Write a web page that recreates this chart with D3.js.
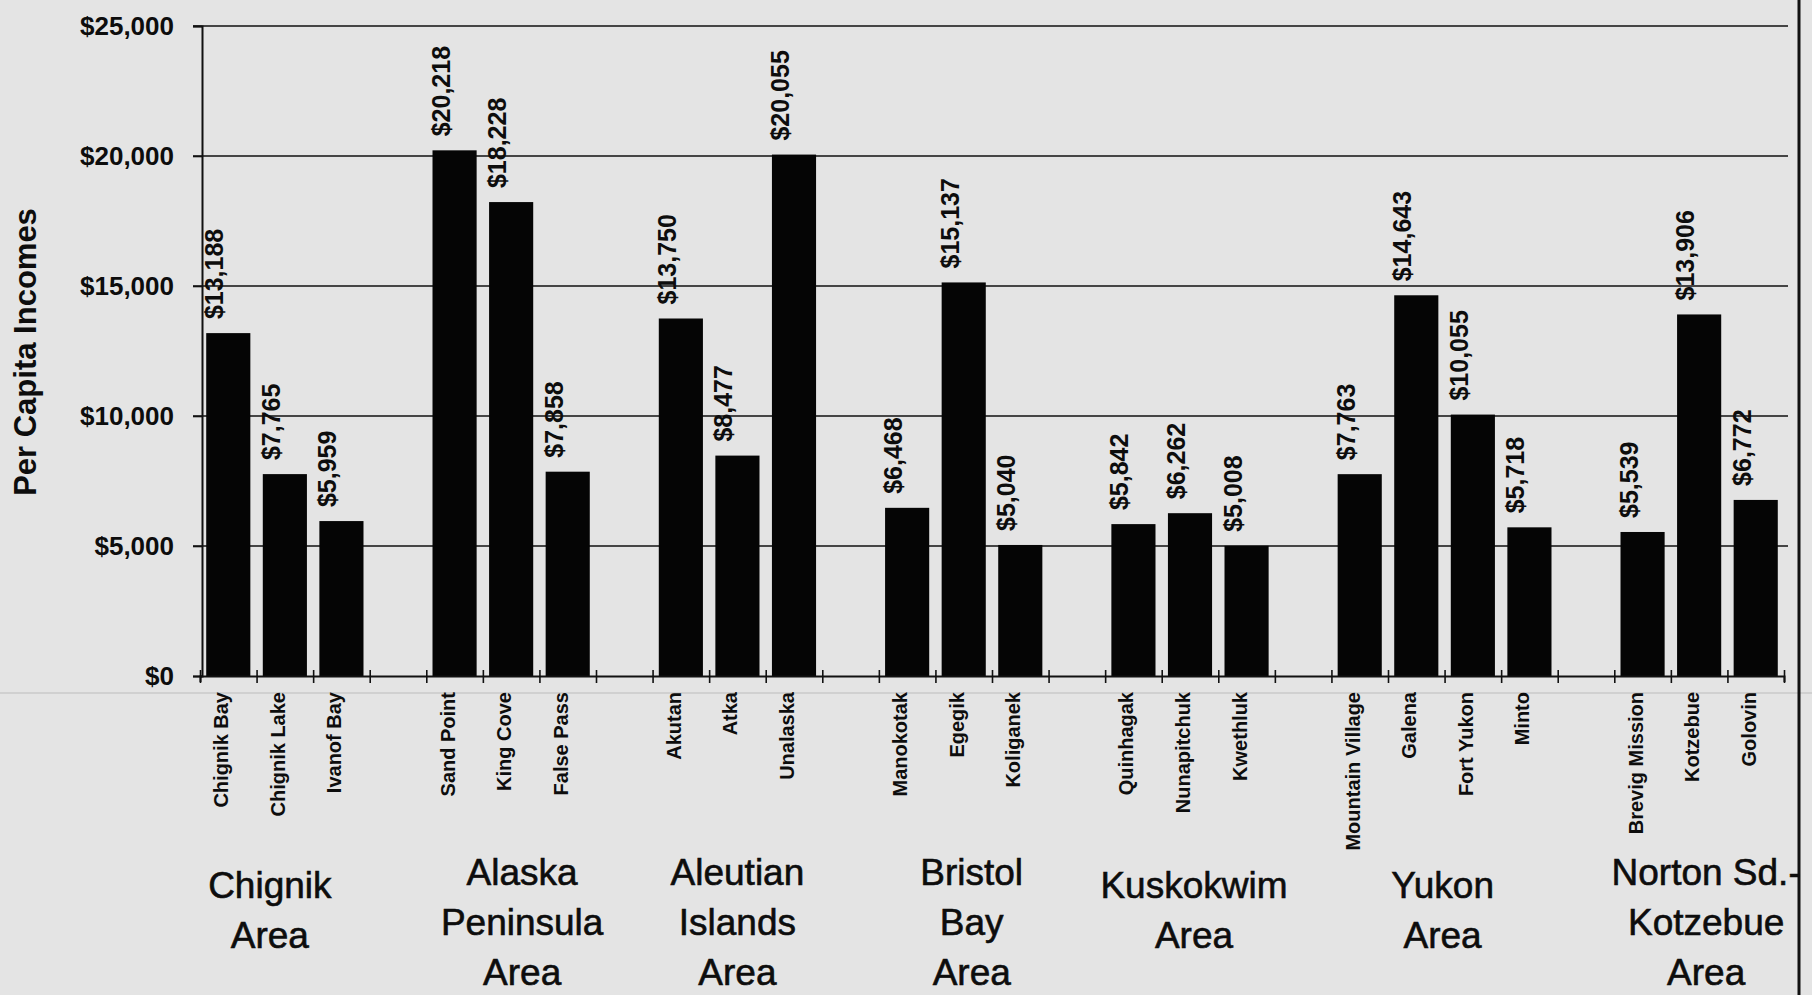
<!DOCTYPE html>
<html>
<head>
<meta charset="utf-8">
<script src="https://cdn.jsdelivr.net/npm/d3@7"></script>
<style>
  html, body { margin: 0; padding: 0; background: #e4e4e4; overflow: hidden; }
  svg { display: block; }
  text { font-family: "Liberation Sans", Arial, sans-serif; fill: #0d0d0d; }
</style>
</head>
<body>
<svg id="chart" width="1812" height="995"></svg>
<script>
// ---------------- data ----------------
const groupLabels = [
  ["Chignik", "Area"],
  ["Alaska", "Peninsula", "Area"],
  ["Aleutian", "Islands", "Area"],
  ["Bristol", "Bay", "Area"],
  ["Kuskokwim", "Area"],
  ["Yukon", "Area"],
  ["Norton Sd.-", "Kotzebue", "Area"]
];
const groupSizes = [3, 3, 3, 3, 3, 4, 3];
const communities = [
  "Chignik Bay", "Chignik Lake", "Ivanof Bay",
  "Sand Point", "King Cove", "False Pass",
  "Akutan", "Atka", "Unalaska",
  "Manokotak", "Egegik", "Koliganek",
  "Quinhagak", "Nunapitchuk", "Kwethluk",
  "Mountain Village", "Galena", "Fort Yukon", "Minto",
  "Brevig Mission", "Kotzebue", "Golovin"
];
const incomes = [
  13188, 7765, 5959,
  20218, 18228, 7858,
  13750, 8477, 20055,
  6468, 15137, 5040,
  5842, 6262, 5008,
  7763, 14643, 10055, 5718,
  5539, 13906, 6772
];
const yTicks = [0, 5000, 10000, 15000, 20000, 25000];
const yTitle = "Per Capita Incomes";

// ---------------- layout ----------------
const svg = d3.select("#chart");
const W = 1812, H = 995;
const plotL = 200, plotR = 1784, plotT = 26, plotB = 676;

// slots: communities with an empty slot between groups
const slots = [];
let k = 0;
groupSizes.forEach((n, g) => {
  for (let i = 0; i < n; i++) { slots.push(communities[k]); k++; }
  if (g < groupSizes.length - 1) slots.push("gap" + g);
});

const x = d3.scaleBand().domain(slots).range([plotL, plotR]).paddingInner(0.22).paddingOuter(0.11);
const slotScale = d3.scaleLinear().domain([0, slots.length]).range([plotL, plotR]);
const y = d3.scaleLinear().domain([0, 25000]).range([plotB, plotT]);

// background
svg.append("rect").attr("width", W).attr("height", H).attr("fill", "#e4e4e4");
// faint fold line from the scan
svg.append("line").attr("x1", 0).attr("x2", W).attr("y1", 693).attr("y2", 693)
  .attr("stroke", "#d0d0d0").attr("stroke-width", 2);
// right page border
svg.append("line").attr("x1", 1799).attr("x2", 1799).attr("y1", 0).attr("y2", H)
  .attr("stroke", "#111").attr("stroke-width", 3);

// gridlines
svg.append("g").selectAll("line").data(yTicks.filter(d => d > 0)).join("line")
  .attr("x1", plotL - 7).attr("x2", plotR + 4)
  .attr("y1", d => y(d)).attr("y2", d => y(d))
  .attr("stroke", "#111").attr("stroke-width", 1.6);

// y axis
const yAxis = svg.append("g").attr("transform", `translate(${plotL + 2},0)`)
  .call(d3.axisLeft(y).tickValues(yTicks).tickSize(9).tickPadding(19)
    .tickFormat(d => "$" + d3.format(",")(d)));
yAxis.select(".domain").attr("stroke", "#111").attr("stroke-width", 2);
yAxis.selectAll(".tick line").attr("stroke", "#111").attr("stroke-width", 1.6);
yAxis.selectAll(".tick text")
  .style("font-family", "'Liberation Sans', Arial, sans-serif")
  .style("font-size", "26px").style("font-weight", "bold").attr("fill", "#0d0d0d");

// bars
svg.append("g").selectAll("rect").data(communities).join("rect")
  .attr("x", d => x(d))
  .attr("width", x.bandwidth())
  .attr("y", (d, i) => y(incomes[i]))
  .attr("height", (d, i) => y(0) - y(incomes[i]))
  .attr("fill", "#050505");

// x axis with slot-boundary ticks crossing the line
const xAxis = svg.append("g").attr("transform", `translate(0,${plotB})`)
  .call(d3.axisBottom(slotScale).tickValues(d3.range(slots.length + 1)).tickSize(6).tickFormat(""));
xAxis.select(".domain").attr("stroke", "#111").attr("stroke-width", 2);
xAxis.selectAll(".tick line").attr("y1", -6).attr("y2", 7).attr("stroke", "#111").attr("stroke-width", 1.6);

// value labels
svg.append("g").selectAll("text").data(communities).join("text")
  .attr("transform", (d, i) => `translate(${x(d) + x.bandwidth() / 2 - 5},${y(incomes[i]) - 14}) rotate(-90)`)
  .attr("text-anchor", "start")
  .style("font-size", "25px").style("font-weight", "bold")
  .text((d, i) => "$" + d3.format(",")(incomes[i]));

// category labels
svg.append("g").selectAll("text").data(communities).join("text")
  .attr("transform", d => `translate(${x(d) + x.bandwidth() / 2},${plotB + 16}) rotate(-90)`)
  .attr("text-anchor", "end")
  .style("font-size", "20px").style("font-weight", "bold")
  .text(d => d);

// group labels (small per-group nudges as in the original page layout)
const groupShift = [-15, 11, 0, 8, 4, -2, 7];
let start = 0;
groupLabels.forEach((lines, g) => {
  const first = communities[start], last = communities[start + groupSizes[g] - 1];
  start += groupSizes[g];
  const cx = (x(first) + x(last) + x.bandwidth()) / 2 + groupShift[g];
  const y0 = lines.length === 3 ? 885 : 898;
  const t = svg.append("text").attr("text-anchor", "middle")
    .style("font-size", "37px").attr("stroke", "#0d0d0d").attr("stroke-width", 0.6);
  lines.forEach((ln, j) => {
    t.append("tspan").attr("x", cx).attr("y", y0 + j * 50).text(ln);
  });
});

// y title
svg.append("text")
  .attr("transform", `translate(36,352) rotate(-90)`)
  .attr("text-anchor", "middle")
  .style("font-size", "31px").style("font-weight", "bold")
  .text(yTitle);
</script>
</body>
</html>
